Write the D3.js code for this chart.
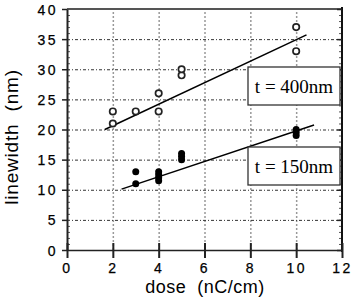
<!DOCTYPE html>
<html>
<head>
<meta charset="utf-8">
<script src="https://cdn.jsdelivr.net/npm/d3@7"></script>
<style>
  body { margin: 0; background: #fff; }
  svg { display: block; }
  text { white-space: pre; }
  .tick text { font-family: Arial, "Liberation Sans", sans-serif; font-size: 14px; letter-spacing: 2.5px; fill: #000; stroke: #000; stroke-width: 0.25px; }
</style>
</head>
<body>
<div id="chart"></div>
<script>
// t = 400nm (open circles)
var dose400 = [2, 2, 3, 4, 4, 5, 5, 10, 10];
var width400 = [21, 23, 23, 23, 26, 29, 30, 33, 37];
var fit400 = [[1.65, 20.0], [10.45, 35.7]];

// t = 150nm (filled circles)
var dose150 = [3, 3, 4, 4, 4, 4, 5, 5, 5, 10, 10, 10];
var width150 = [11, 13, 11.5, 12, 12.5, 13, 15, 15.5, 16, 19, 19.5, 20];
var fit150 = [[2.38, 10.1], [10.78, 20.75]];

var xTicks = [0, 2, 4, 6, 8, 10, 12];
var yTicks = [0, 5, 10, 15, 20, 25, 30, 35, 40];
var labels = ["t = 400nm", "t = 150nm"];

var svgWidth = 352;
var svgHeight = 298;

var svg = d3.select("#chart")
  .append("svg")
  .attr("width", svgWidth)
  .attr("height", svgHeight);

var x = d3.scaleLinear().domain([0, 12]).range([67, 342]);
var y = d3.scaleLinear().domain([0, 40]).range([250, 9]);

// grid lines
svg.append("g")
  .attr("transform", "translate(0,250)")
  .call(d3.axisBottom(x).tickValues([2, 4, 6, 8, 10]).tickSize(-241).tickFormat(""))
  .call(g => g.select(".domain").remove())
  .selectAll("line")
  .attr("stroke", "#999")
  .attr("stroke-width", 1.5)
  .attr("stroke-dasharray", "2,2");

svg.append("g")
  .attr("transform", "translate(67,0)")
  .call(d3.axisLeft(y).tickValues([5, 10, 15, 20, 25, 30, 35]).tickSize(-275).tickFormat(""))
  .call(g => g.select(".domain").remove())
  .selectAll("line")
  .attr("stroke", "#333")
  .attr("stroke-dasharray", "3,2,1,2");

// top frame
svg.append("line")
  .attr("x1", x(0)).attr("x2", x(12))
  .attr("y1", y(40)).attr("y2", y(40))
  .attr("stroke", "#555").attr("stroke-width", 2);

// minor ticks on left and right
var minor = d3.range(1, 40);
svg.append("g")
  .attr("transform", "translate(67,0)")
  .call(d3.axisRight(y).tickValues(minor).tickSize(3).tickFormat(""))
  .call(g => g.select(".domain").remove())
  .selectAll("line").attr("stroke", "#555");
svg.append("g")
  .attr("transform", "translate(342,0)")
  .call(d3.axisLeft(y).tickValues(minor).tickSize(3).tickFormat(""))
  .call(g => g.select(".domain").remove())
  .selectAll("line").attr("stroke", "#555");

// left axis
var leftAxis = svg.append("g")
  .attr("transform", "translate(67,0)")
  .call(d3.axisLeft(y).tickValues(yTicks).tickSize(5).tickSizeOuter(0).tickPadding(4));
leftAxis.select(".domain").attr("stroke", "#222").attr("stroke-width", 2);
leftAxis.selectAll("line").attr("stroke", "#222").attr("stroke-width", 1.5);
leftAxis.selectAll("text").attr("dy", "0.36em");

// right axis
svg.append("line")
  .attr("x1", 342).attr("x2", 342)
  .attr("y1", y(40) - 2).attr("y2", y(0) + 2)
  .attr("stroke", "#111").attr("stroke-width", 2);
svg.append("g")
  .attr("transform", "translate(342,0)")
  .call(d3.axisLeft(y).tickValues(yTicks).tickSize(5).tickFormat(""))
  .call(g => g.select(".domain").remove())
  .selectAll("line").attr("stroke", "#222").attr("stroke-width", 1.5);

// bottom axis
var bottomAxis = svg.append("g")
  .attr("transform", "translate(0,250)")
  .call(d3.axisBottom(x).tickValues(xTicks).tickSize(8).tickSizeOuter(0).tickPadding(5));
bottomAxis.select(".domain").attr("stroke", "#222").attr("stroke-width", 1.5);
bottomAxis.selectAll("line").attr("stroke", "#222").attr("stroke-width", 2);
svg.append("g")
  .attr("transform", "translate(0,250)")
  .call(d3.axisBottom(x).tickValues(xTicks).tickSize(-7).tickFormat(""))
  .call(g => g.select(".domain").remove())
  .selectAll("line").attr("stroke", "#222").attr("stroke-width", 2);

// fit lines
var line = d3.line().x(d => x(d[0])).y(d => y(d[1]));
[fit400, fit150].forEach(function(f) {
  svg.append("path")
    .attr("d", line(f))
    .attr("fill", "none")
    .attr("stroke", "#000")
    .attr("stroke-width", 1.5);
});

// points
svg.selectAll("circle.open")
  .data(dose400)
  .enter()
  .append("circle")
  .attr("class", "open")
  .attr("cx", d => x(d))
  .attr("cy", (d, i) => y(width400[i]))
  .attr("r", 3.2)
  .attr("fill", "#fff")
  .attr("stroke", "#222")
  .attr("stroke-width", 1.7);

svg.selectAll("circle.filled")
  .data(dose150)
  .enter()
  .append("circle")
  .attr("class", "filled")
  .attr("cx", d => x(d))
  .attr("cy", (d, i) => y(width150[i]))
  .attr("r", 3.5)
  .attr("fill", "#000");

// label boxes
var boxTops = [67, 147];
labels.forEach(function(t, i) {
  svg.append("rect")
    .attr("x", 248)
    .attr("y", boxTops[i])
    .attr("width", 92)
    .attr("height", 38)
    .attr("fill", "#fff")
    .attr("stroke", "#333")
    .attr("stroke-width", 1.3);
  svg.append("text")
    .attr("x", 294)
    .attr("y", boxTops[i] + 26)
    .attr("text-anchor", "middle")
    .attr("font-family", "'Liberation Serif', 'Times New Roman', serif")
    .attr("font-size", "19px")
    .attr("fill", "#000")
    .text(t);
});

// axis titles
svg.append("text")
  .attr("x", 205)
  .attr("y", 293)
  .attr("text-anchor", "middle")
  .attr("font-family", "Arial, 'Liberation Sans', sans-serif")
  .attr("font-size", "18px")
  .attr("letter-spacing", "0.5px")
  .attr("fill", "#000")
  .text("dose  (nC/cm)");

svg.append("text")
  .attr("transform", "translate(18,137) rotate(-90)")
  .attr("text-anchor", "middle")
  .attr("font-family", "Arial, 'Liberation Sans', sans-serif")
  .attr("font-size", "19px")
  .attr("letter-spacing", "0.8px")
  .attr("fill", "#000")
  .text("linewidth  (nm)");
</script>
</body>
</html>
